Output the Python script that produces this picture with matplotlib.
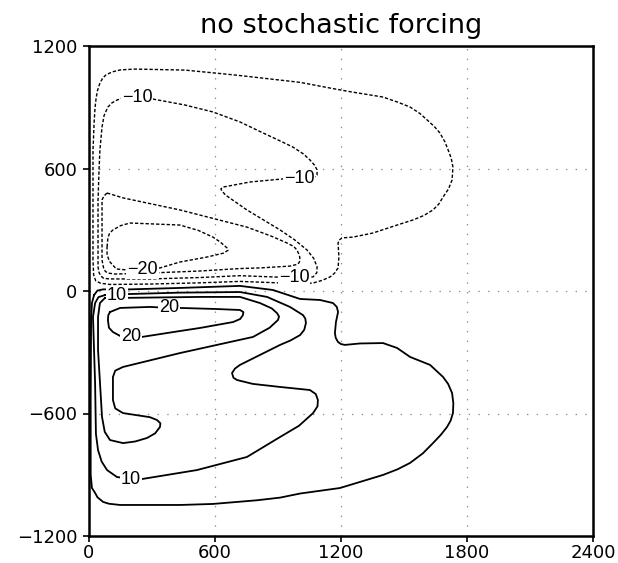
import matplotlib
matplotlib.use("Agg")
import matplotlib.pyplot as plt

plt.rcParams["lines.scale_dashes"] = False

# streamfunction isolines (x, y in km)
# negative values: northern gyre, dashed
m5_x = [19, 19, 19, 22, 24, 29, 34, 40, 52, 65, 80, 110, 150, 219, 457, 695, 910, 1005,
        1148, 1250, 1400, 1470, 1529, 1575, 1610, 1645, 1671, 1695, 1710, 1725, 1733, 1729,
        1712, 1686, 1665, 1638, 1595, 1543, 1467, 1352, 1257, 1205, 1192, 1186, 1190, 1186,
        1170, 1148, 1110, 1067, 1005, 900, 719, 529, 290, 100, 55, 32, 22, 19]
m5_y = [152, 446, 691, 760, 820, 901, 945, 980, 1019, 1042, 1058, 1073, 1083, 1087, 1082,
        1058, 1033, 1022, 994, 975, 950, 925, 901, 870, 838, 805, 774, 730, 691, 650, 607,
        544, 500, 460, 425, 397, 370, 348, 323, 284, 264, 260, 250, 235, 167, 113, 88, 69,
        52, 39, 36, 40, 47, 40, 34, 32, 38, 50, 80, 152]

m10_x = [229, 305, 457, 590, 719, 829, 900, 971, 1020, 1052, 1075, 1086, 1086, 1067, 1000,
         924, 767, 638, 628, 633, 650, 752, 910, 980, 1038, 1070, 1086, 1085, 1067, 1000,
         900, 719, 529, 290, 100, 70, 57, 48, 43, 43, 48, 52, 62, 72, 90, 110, 133, 157, 229]
m10_y = [950, 940, 911, 877, 828, 774, 740, 705, 672, 642, 615, 593, 568, 553, 553,
         549, 534, 509, 500, 490, 470, 397, 299, 250, 201, 160, 118, 90, 69, 64,
         68, 75, 66, 59, 59, 62, 73, 90, 118, 446, 600, 691, 803, 860, 901, 922, 935, 945,
         950]

m15_x = [86, 162, 433, 752, 870, 943, 975, 990, 1002, 1005, 1000, 990, 957, 814, 719, 529,
         290, 124, 90, 78, 70, 62, 62, 71, 86]
m15_y = [480, 456, 397, 313, 268, 235, 218, 201, 175, 152, 138, 130, 122, 113, 110, 98,
         88, 83, 88, 96, 110, 152, 446, 465, 480]

m20_x = [86, 90, 98, 114, 150, 195, 433, 520, 590, 625, 657, 662, 643, 560, 433, 338, 262,
         181, 130, 100, 92, 86, 86]
m20_y = [216, 260, 283, 299, 320, 333, 323, 297, 264, 240, 211, 200, 186, 166, 142, 113,
         105, 103, 108, 142, 160, 180, 216]

# positive values: southern gyre, solid
p5_x = [24, 40, 67, 195, 433, 719, 876, 1005, 1100, 1162, 1180, 1186, 1176, 1171, 1175,
        1186, 1200, 1219, 1290, 1400, 1467, 1529, 1624, 1686, 1710, 1729, 1735, 1733,
        1722, 1705, 1675, 1638, 1590, 1529, 1470, 1400, 1195, 1005, 910, 800, 590, 433,
        148, 95, 67, 40, 29, 14, 8, 8, 8, 10, 14, 24]
p5_y = [-20, 2, 8, 8, 15, 25, 5, -39, -44, -59, -78, -103, -152, -206, -230, -250, -260,
        -264, -257, -255, -279, -323, -362, -421, -455, -500, -550, -598, -635, -666,
        -705, -745, -795, -842, -873, -901, -965, -992, -1012, -1025, -1043, -1048,
        -1048, -1042, -1033, -1010, -989, -965, -900, -800, -534, -142, -59, -20]

p10_x = [76, 133, 186, 433, 719, 848, 957, 1019, 1030, 1033, 1025, 1005, 960, 910, 719,
         695, 681, 688, 705, 780, 910, 1052, 1080, 1090, 1088, 1067, 1000, 910, 752, 514,
         252, 200, 133, 86, 60, 43, 33, 29, 19, 29, 45, 76]
p10_y = [-20, -20, -15, -8, -5, -29, -78, -118, -135, -157, -190, -216, -242, -264, -362,
         -380, -402, -425, -436, -455, -470, -485, -505, -534, -565, -598, -660, -715,
         -813, -877, -921, -921, -911, -877, -835, -779, -700, -451, -127, -59, -30, -20]

p15_x = [76, 148, 529, 719, 814, 870, 895, 905, 900, 860, 781, 433, 162, 125, 114, 114,
         125, 162, 290, 324, 340, 338, 315, 276, 220, 162, 100, 75, 62, 43, 43, 52, 76]
p15_y = [-34, -34, -29, -29, -59, -85, -108, -125, -142, -180, -225, -304, -372, -390,
         -421, -534, -575, -598, -618, -632, -648, -666, -697, -720, -737, -745, -730,
         -690, -617, -289, -127, -59, -34]

p20_x = [100, 148, 290, 381, 433, 600, 719, 735, 733, 720, 686, 529, 433, 252, 200, 157,
         114, 95, 90, 92, 100]
p20_y = [-103, -83, -78, -83, -83, -88, -93, -103, -118, -137, -152, -181, -196, -225,
         -225, -225, -201, -180, -142, -118, -103]

contours = {
    -5: (m5_x, m5_y), -10: (m10_x, m10_y), -15: (m15_x, m15_y), -20: (m20_x, m20_y),
    5: (p5_x, p5_y), 10: (p10_x, p10_y), 15: (p15_x, p15_y), 20: (p20_x, p20_y),
}

# inline contour labels
label_text = ["\u221210", "\u221210", "\u221220", "\u221210", "10", "20", "20", "10"]
label_x = [229, 1000, 255, 976, 133, 381, 200, 200]
label_y = [950, 553, 105, 64, -20, -83, -225, -921]

xticks = [0, 600, 1200, 1800, 2400]
yticks = [-1200, -600, 0, 600, 1200]

fig = plt.figure(figsize=(6.18, 5.63), dpi=100)
ax = fig.add_axes([89 / 618, 27 / 563, 504 / 618, 490 / 563])

for lev, (xs, ys) in contours.items():
    if lev < 0:
        ax.plot(xs, ys, color="black", lw=1.0, ls=(0, (2.4, 1.4)),
                dash_joinstyle="round", dash_capstyle="butt", zorder=3)
    else:
        ax.plot(xs, ys, color="black", lw=1.3, solid_joinstyle="round", zorder=3)

for txt, x, y in zip(label_text, label_x, label_y):
    ax.text(x, y, txt, ha="center", va="center", fontsize=13,
            family="Liberation Sans", zorder=4,
            bbox=dict(boxstyle="square,pad=0.05", fc="white", ec="none"))

ax.set_xlim(0, 2400)
ax.set_ylim(-1200, 1200)
ax.set_xticks(xticks)
ax.set_yticks(yticks)
ax.grid(True, color="#8c8c8c", lw=0.9, ls=(0, (1.0, 6.0)), zorder=1)

for side in ["top", "right", "left", "bottom"]:
    ax.spines[side].set_linewidth(1.8)
ax.tick_params(direction="out", length=4.5, width=1.2, labelsize=13,
               top=False, right=False)
ax.tick_params(axis="x", pad=1)
ax.tick_params(axis="y", pad=4)

fig.text(341 / 618, 1 - 33 / 563, "no stochastic forcing", ha="center",
         va="baseline", fontsize=19.5, family="DejaVu Sans")

fig.savefig("out.png", dpi=100)
